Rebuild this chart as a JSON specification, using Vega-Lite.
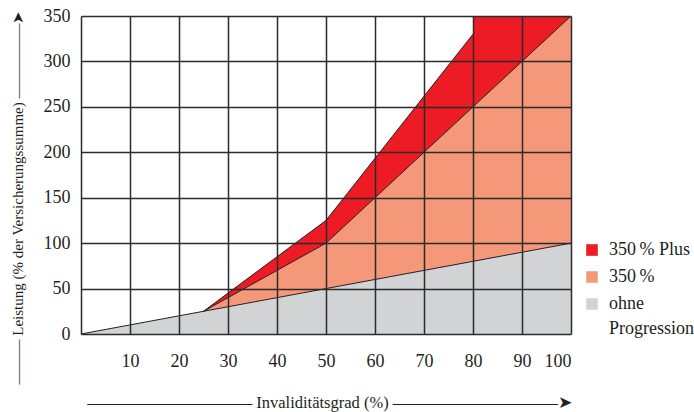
{
  "$schema": "https://vega.github.io/schema/vega-lite/v6.json",
  "width": 490,
  "height": 318,
  "autosize": {"type": "none"},
  "padding": {"left": 81, "top": 16, "right": 123, "bottom": 78},
  "config": {
    "font": "'Liberation Serif', serif",
    "view": {"stroke": null},
    "axis": {
      "grid": true,
      "gridColor": "#2b2b2b",
      "gridWidth": 1.5,
      "gridOpacity": 1,
      "domain": false,
      "ticks": false,
      "labelFont": "'Liberation Serif', serif",
      "labelFontSize": 18,
      "labelColor": "#231f20",
      "titleFont": "'Liberation Serif', serif",
      "titleFontSize": 15,
      "titleFontWeight": "normal",
      "titleColor": "#231f20"
    },
    "legend": {
      "labelFont": "'Liberation Serif', serif",
      "labelFontSize": 18,
      "labelColor": "#231f20",
      "symbolType": "square",
      "symbolSize": 135,
      "symbolStrokeWidth": 0,
      "symbolOpacity": 1,
      "labelOffset": 8,
      "rowPadding": 9,
      "padding": 0
    }
  },
  "data": {
    "values": [
      {"series": "ohne Progression", "x": 0, "lo": 0, "hi": 0},
      {"series": "ohne Progression", "x": 100, "lo": 0, "hi": 100},
      {"series": "350\u202f%", "x": 25, "lo": 25, "hi": 25},
      {"series": "350\u202f%", "x": 50, "lo": 50, "hi": 100},
      {"series": "350\u202f%", "x": 100, "lo": 100, "hi": 350},
      {"series": "350\u202f% Plus", "x": 25, "lo": 25, "hi": 25},
      {"series": "350\u202f% Plus", "x": 50, "lo": 100, "hi": 125},
      {"series": "350\u202f% Plus", "x": 80, "lo": 250, "hi": 330},
      {"series": "350\u202f% Plus", "x": 80, "lo": 250, "hi": 350},
      {"series": "350\u202f% Plus", "x": 100, "lo": 350, "hi": 350}
    ]
  },
  "encoding": {
    "x": {
      "field": "x",
      "type": "quantitative",
      "scale": {"domain": [0, 100], "nice": false, "zero": false},
      "axis": {
        "zindex": 1,
        "values": [0, 10, 20, 30, 40, 50, 60, 70, 80, 90, 100],
        "labelExpr": "datum.value == 0 ? '' : datum.label",
        "labelPadding": 18,
        "title": "—————————— Invaliditätsgrad (%) ——————————➤",
        "titleFontSize": 16.5,
        "titleX": 248,
        "titleY": 68,
        "titleBaseline": "middle"
      }
    },
    "y": {
      "field": "hi",
      "type": "quantitative",
      "scale": {"domain": [0, 350], "nice": false},
      "axis": {
        "zindex": 1,
        "values": [0, 50, 100, 150, 200, 250, 300, 350],
        "labelPadding": 11,
        "title": "——— Leistung (% der Versicherungssumme) —————➤",
        "titleX": -64,
        "titleY": 181,
        "titleBaseline": "middle"
      }
    }
  },
  "layer": [
    {
      "mark": {"type": "area", "opacity": 1},
      "encoding": {
        "y2": {"field": "lo"},
        "color": {
          "field": "series",
          "type": "nominal",
          "scale": {
            "domain": ["350\u202f% Plus", "350\u202f%", "ohne Progression"],
            "range": ["#ed1c24", "#f5987a", "#d1d3d4"]
          },
          "legend": {
            "title": null,
            "orient": "none",
            "legendX": 502,
            "legendY": 225,
            "labelExpr": "datum.label == 'ohne Progression' ? ['ohne', 'Progression'] : datum.label",
            "encode": {
              "labels": {
                "update": {
                  "lineHeight": {"value": 25}
                }
              }
            }
          }
        },
        "order": {"value": null}
      }
    },
    {
      "transform": [{"filter": "!(datum.series == '350\u202f% Plus' && datum.hi == 350)"}],
      "mark": {"type": "line", "color": "#231f20", "strokeWidth": 1},
      "encoding": {
        "detail": {"field": "series"},
        "order": {"value": null}
      }
    }
  ]
}
